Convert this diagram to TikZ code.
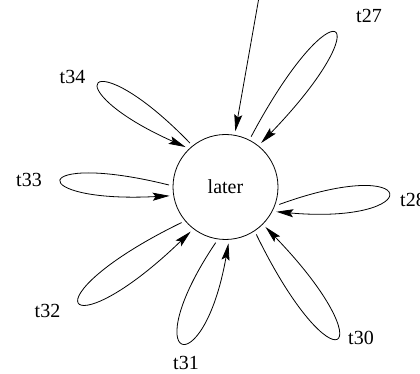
\documentclass[tikz,border=0pt]{standalone}
\usepackage{fontspec}
\setmainfont{Liberation Serif}
\usetikzlibrary{arrows.meta}
\pgfdeclarelayer{nodelayer}
\pgfdeclarelayer{edgelayer}
\pgfsetlayers{nodelayer,edgelayer,main}
\tikzset{
    none/.style = {inner sep=0pt, font=\fontsize{20}{24}\selectfont},
    state/.style = {circle, draw, line width=0.8pt, minimum size=105pt, inner sep=0pt, outer sep=4pt, font=\fontsize{20}{24}\selectfont},
    trans/.style = {line width=0.8pt, -{Stealth[length=17pt, width=8pt, inset=3pt]}}
}

\begin{document}
\begin{tikzpicture}[x=1pt, y=1pt]
  \useasboundingbox (0, 0) rectangle (420, 374);
  \begin{pgfonlayer}{nodelayer}
    \node [style=state] (0) at (225.5, 187) {later};
    \coordinate (1) at (258.5, 374);
    \node [style=none] (2) at (369, 358) {t27};
    \node [style=none, anchor=west] (3) at (400, 174) {t28};
    \node [style=none] (4) at (361, 36) {t30};
    \node [style=none] (5) at (186, 11.5) {t31};
    \node [style=none] (6) at (47.5, 63) {t32};
    \node [style=none] (7) at (29, 194) {t33};
    \node [style=none] (8) at (72.5, 297) {t34};
  \end{pgfonlayer}
  \begin{pgfonlayer}{edgelayer}
    \draw [style=trans] (1) to (0);
    \draw [style=trans, min distance=178pt, in=46, out=62] (0.63) to (0.51);
    \draw [style=trans, min distance=152pt, in=-5, out=20] (0.-18) to (0.-26);
    \draw [style=trans, min distance=177pt, in=-46, out=-64] (0.-57) to (0.-45);
    \draw [style=trans, min distance=146pt, in=-100, out=-124] (0.-100) to (0.-87);
    \draw [style=trans, min distance=176pt, in=-136, out=-154] (0.-141) to (0.-128);
    \draw [style=trans, min distance=146pt, in=183, out=166] (0.178) to (0.189);
    \draw [style=trans, min distance=146pt, in=156, out=134] (0.129) to (0.135);
  \end{pgfonlayer}
\end{tikzpicture}
\end{document}
